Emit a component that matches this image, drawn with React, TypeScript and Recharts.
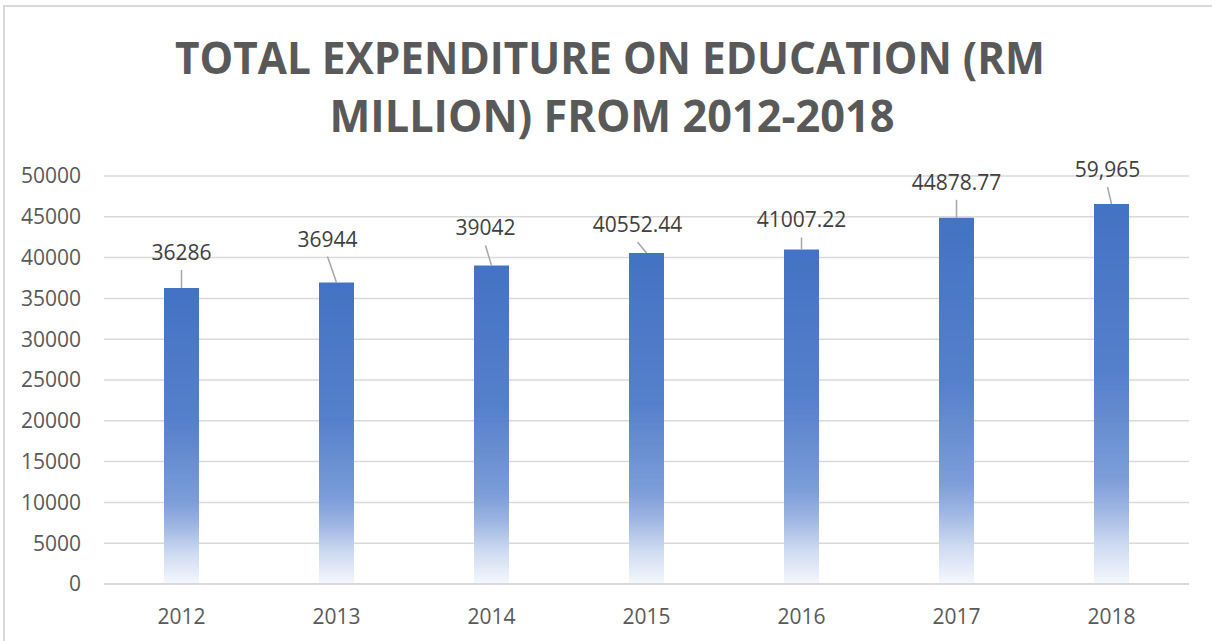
import React from "react";
import { BarChart, Bar, XAxis, YAxis, CartesianGrid, LabelList } from "recharts";

const years = ["2012", "2013", "2014", "2015", "2016", "2017", "2018"];
const expenditure = [36286, 36944, 39042, 40552.44, 41007.22, 44878.77, 46570];
const valueLabels = ["36286", "36944", "39042", "40552.44", "41007.22", "44878.77", "59,965"];
const yTicks = [0, 5000, 10000, 15000, 20000, 25000, 30000, 35000, 40000, 45000, 50000];
const titleLines = ["TOTAL EXPENDITURE ON EDUCATION (RM", "MILLION) FROM 2012-2018"];

// label placement (layout only): horizontal shift and baseline distance above bar top
const labelDx = [0, -9, -6, -9, 0, 0, -4];
const labelRise = [28, 36, 30, 21, 22, 28, 27];

const data = years.map((y, i) => ({ year: y, value: expenditure[i] }));

const FONT = "'Open Sans', 'DejaVu Sans', sans-serif";

const renderLabel = (props: any) => {
  const { x, y, width, value } = props;
  const i = years.indexOf(String(value));
  if (i < 0) return null;
  const cx = Number(x) + Number(width) / 2;
  const ty = Number(y);
  const lx = cx + labelDx[i];
  const base = ty - labelRise[i];
  return (
    <g>
      <line x1={lx} y1={base + 10} x2={cx} y2={ty} stroke="#a6a6a6" strokeWidth={1.5} />
      <text x={lx} y={base} textAnchor="middle" fontFamily={FONT} fontSize={21} fill="#404040">
        {valueLabels[i]}
      </text>
    </g>
  );
};

export default function App() {
  return (
    <div style={{ position: "absolute", left: 0, top: 0, width: 1212, height: 641, background: "#fff", overflow: "hidden" }}>
      <div
        style={{
          position: "absolute",
          left: 3,
          top: 5,
          width: 1300,
          height: 700,
          borderLeft: "2px solid #d9d9d9",
          borderTop: "2px solid #d9d9d9",
        }}
      />
      <svg style={{ position: "absolute", left: 0, top: 0 }} width={1212} height={160}>
        <text x={610} y={74} textAnchor="middle" fontFamily={FONT} fontWeight={700} fontSize={44} fill="#595959"
          textLength={870} lengthAdjust="spacingAndGlyphs">
          {titleLines[0]}
        </text>
        <text x={612} y={132} textAnchor="middle" fontFamily={FONT} fontWeight={700} fontSize={44} fill="#595959"
          textLength={565} lengthAdjust="spacingAndGlyphs">
          {titleLines[1]}
        </text>
      </svg>
      <div style={{ position: "absolute", left: 0, top: 0 }}>
        <BarChart
          width={1212}
          height={641}
          data={data}
          margin={{ top: 176, right: 23, left: 0, bottom: 0 }}
          barSize={35}
        >
          <defs>
            <linearGradient id="barGrad" x1="0" y1="0" x2="0" y2="1">
              <stop offset="0" stopColor="#4472c4" />
              <stop offset="0.45" stopColor="#5580cb" />
              <stop offset="0.72" stopColor="#7c9dd8" />
              <stop offset="0.8" stopColor="#9cb4e2" />
              <stop offset="0.9" stopColor="#cfdbf1" />
              <stop offset="1" stopColor="#f5f8fd" />
            </linearGradient>
          </defs>
          <CartesianGrid vertical={false} stroke="#d9d9d9" strokeWidth={1.5} />
          <XAxis
            dataKey="year"
            height={57}
            axisLine={{ stroke: "#d9d9d9", strokeWidth: 2 }}
            tickLine={false}
            tickSize={0}
            tickMargin={25}
            tick={{ fill: "#595959", fontSize: 21, fontFamily: FONT }}
          />
          <YAxis
            width={104}
            domain={[0, 50000]}
            ticks={yTicks}
            interval={0}
            axisLine={false}
            tickLine={false}
            tickSize={0}
            tickMargin={23}
            tick={{ fill: "#595959", fontSize: 21, fontFamily: FONT }}
          />
          <Bar dataKey="value" fill="url(#barGrad)" isAnimationActive={false}>
            <LabelList dataKey="year" content={renderLabel} />
          </Bar>
        </BarChart>
      </div>
    </div>
  );
}
